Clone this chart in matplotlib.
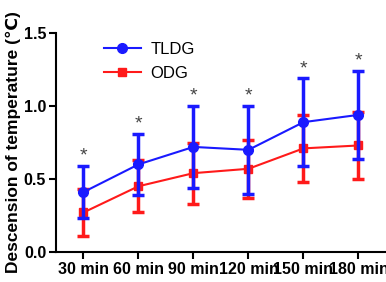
import matplotlib
matplotlib.use("Agg")
import matplotlib.pyplot as plt

plt.rcParams['font.family'] = ['Liberation Sans', 'DejaVu Sans']

times = ['30 min', '60 min', '90 min', '120 min', '150 min', '180 min']
tldg_mean = [0.41, 0.60, 0.72, 0.70, 0.89, 0.94]
tldg_sd = [0.18, 0.21, 0.28, 0.30, 0.30, 0.30]
odg_mean = [0.27, 0.45, 0.54, 0.57, 0.71, 0.73]
odg_sd = [0.16, 0.18, 0.21, 0.20, 0.23, 0.23]
sig = ['*', '*', '*', '*', '*', '*']

fig = plt.figure(figsize=(3.86, 2.82), dpi=100)
ax = fig.add_axes([0.145, 0.107, 0.855, 0.775])

x = list(range(len(times)))
odg = ax.errorbar(x, odg_mean, yerr=odg_sd, color='#ff1a1a', marker='s', ms=6,
                  lw=1.5, elinewidth=2.5, capsize=4, capthick=2.5, zorder=2)
tldg = ax.errorbar(x, tldg_mean, yerr=tldg_sd, color='#1a1aff', marker='o', ms=7,
                   lw=1.5, elinewidth=2.5, capsize=4, capthick=2.5, zorder=3)

# significance marks above the TLDG error bars
for xi, m, s, t in zip(x, tldg_mean, tldg_sd, sig):
    ax.text(xi, m + s + 0.01, t, ha='center', va='bottom', fontsize=14, color='#444444')

ax.set_xlim(-0.5, 5.5)
ax.set_ylim(0, 1.5)
ax.set_yticks([0, 0.5, 1.0, 1.5])
ax.set_yticklabels(['0.0', '0.5', '1.0', '1.5'])
ax.set_xticks(x)
ax.set_xticklabels(times)
for lab in ax.get_xticklabels() + ax.get_yticklabels():
    lab.set_fontweight('bold')
    lab.set_fontsize(11.5)
ax.set_ylabel('Descension of temperature (℃)', fontsize=12.5, fontweight='bold', labelpad=2)

ax.spines['top'].set_visible(False)
ax.spines['right'].set_visible(False)
ax.spines['left'].set_linewidth(1.5)
ax.spines['bottom'].set_linewidth(1.5)
ax.tick_params(direction='out', length=5, width=1.5, pad=2)

ax.legend([tldg[0], odg[0]], ['TLDG', 'ODG'], loc='upper left',
          bbox_to_anchor=(0.1, 1.03), frameon=False, fontsize=12,
          handlelength=2.2, handletextpad=0.6, labelspacing=0.55)

fig.savefig('out.png', dpi=100)
